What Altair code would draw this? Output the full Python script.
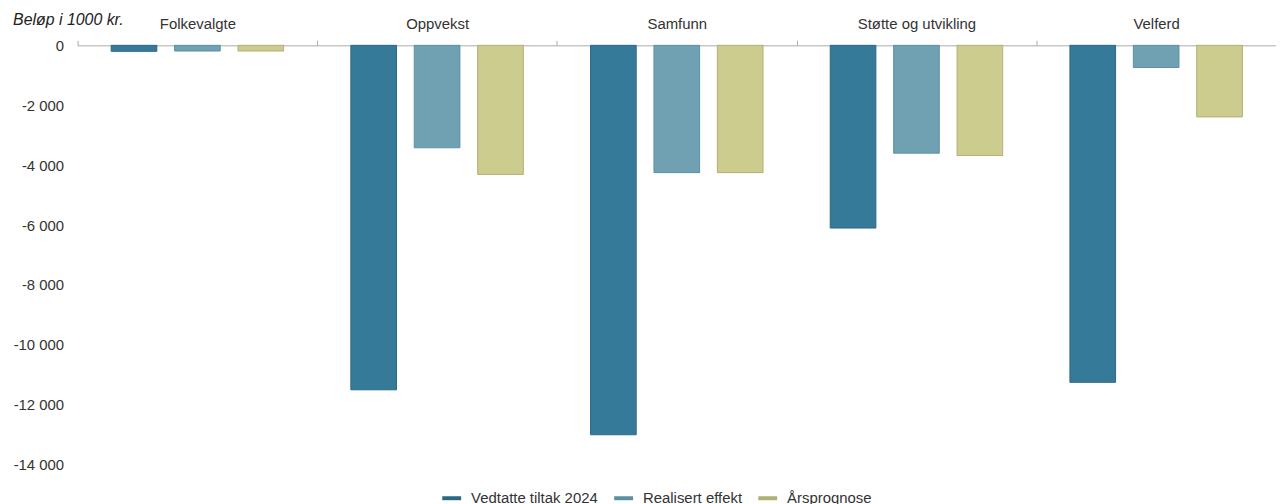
import altair as alt
import pandas as pd

categories = ["Folkevalgte", "Oppvekst", "Samfunn", "Støtte og utvikling", "Velferd"]
series = ["Vedtatte tiltak 2024", "Realisert effekt", "Årsprognose"]
vedtatte = [-200, -11500, -13000, -6100, -11250]
realisert = [-190, -3420, -4250, -3600, -740]
arsprognose = [-190, -4310, -4250, -3680, -2390]
y_ticks = [0, -2000, -4000, -6000, -8000, -10000, -12000, -14000]

fills = ["#367a99", "#70a1b3", "#cccc8e"]
strokes = ["#2c6884", "#5d8fa2", "#b0b075"]

rows = []
for i, c in enumerate(categories):
    for s, vals in zip(series, [vedtatte, realisert, arsprognose]):
        rows.append({"Kategori": c, "Serie": s, "Beløp": vals[i]})
df = pd.DataFrame(rows)

label_expr = "replace(replace(format(datum.value, ','), ',', ' '), '\u2212', '-')"
FONT = "Liberation Sans"

chart = alt.Chart(df).mark_bar(strokeWidth=1).encode(
    x=alt.X("Kategori:N", sort=categories,
            scale=alt.Scale(paddingInner=0, paddingOuter=0),
            axis=alt.Axis(orient="top", title=None, labelAngle=0, labelFontSize=15,
                          labelColor="#333333", labelFont=FONT,
                          domainColor="#aaaaaa", tickColor="#aaaaaa", tickSize=5,
                          tickBand="extent", labelPadding=9)),
    xOffset=alt.XOffset("Serie:N", sort=series,
                        scale=alt.Scale(paddingInner=0.28, paddingOuter=0.53)),
    y=alt.Y("Beløp:Q", scale=alt.Scale(domain=[-14000, 0], nice=False, zero=False),
            axis=alt.Axis(title=None, values=y_ticks, grid=False, domain=False, ticks=False,
                          labelPadding=14, labelFontSize=15, labelColor="#333333",
                          labelFont=FONT, labelExpr=label_expr)),
    color=alt.Color("Serie:N", sort=series, scale=alt.Scale(domain=series, range=fills),
                    legend=alt.Legend(orient="none", legendX=365, legendY=444,
                                      direction="horizontal", title=None,
                                      symbolType="stroke", symbolStrokeWidth=4,
                                      symbolSize=361, labelFontSize=15, labelOffset=8,
                                      labelFont=FONT, labelColor="#333333",
                                      columnPadding=8, symbolOffset=0)),
    stroke=alt.Stroke("Serie:N", sort=series, scale=alt.Scale(domain=series, range=strokes),
                      legend=None),
).properties(
    width=1206,
    height=422,
    autosize=alt.AutoSizeParams(type="none"),
    padding={"left": 70, "top": 36, "right": 0, "bottom": 40},
    title=alt.TitleParams("Beløp i 1000 kr.", anchor="start", frame="bounds",
                          dy=12, offset=0, fontSize=16, fontStyle="italic",
                          fontWeight="normal", font=FONT, color="#222222"),
).configure_view(stroke=None)

chart.save("out.html", embed_options={"renderer": "svg", "actions": False})
